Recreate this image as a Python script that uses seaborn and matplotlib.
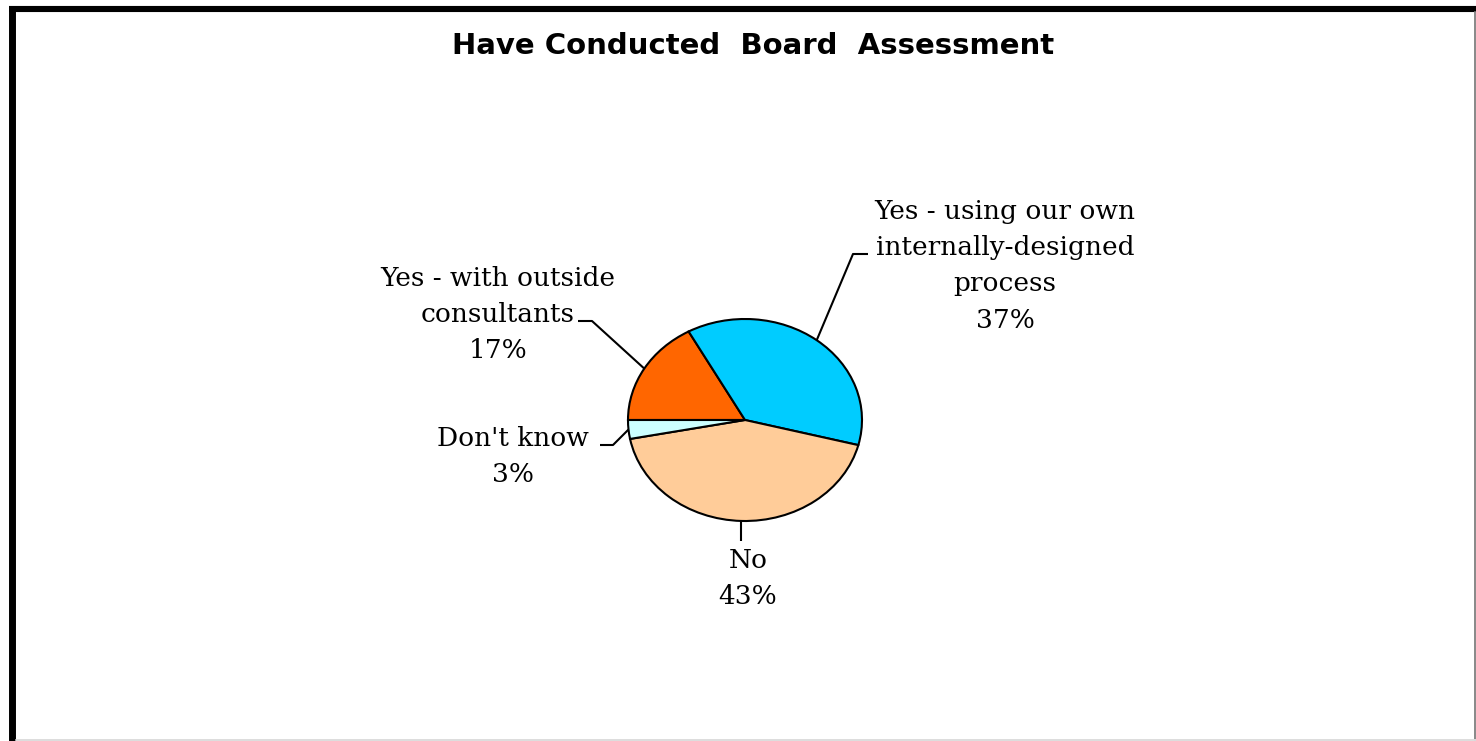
import numpy as np
import seaborn as sns
import matplotlib.pyplot as plt
from matplotlib.lines import Line2D

sns.set_theme(style="white")
plt.rcParams['font.family'] = ['DejaVu Serif', 'Liberation Serif']

# data, clockwise from 9 o'clock
labels = ["Yes - with outside\nconsultants", "Yes - using our own\ninternally-designed\nprocess", "No", "Don't know"]
shares = [17, 37, 43, 3]
colors = ["#FF6600", "#00CCFF", "#FFCC99", "#CCFFFF"]

W, H = 1476, 741
fig = plt.figure(figsize=(W / 100, H / 100), dpi=100)
fig.patch.set_facecolor("white")

# pie box: centre (745, 420) px, radii 117 x 101 px
cx, cy, rx, ry = 745, 420, 117, 101
ax = fig.add_axes([(cx - rx) / W, (H - cy - ry) / H, 2 * rx / W, 2 * ry / H])
wedges, _ = ax.pie(shares, colors=colors, startangle=180, counterclock=False,
                   wedgeprops=dict(edgecolor="black", linewidth=1.5))
ax.set_aspect("auto")
ax.set_xlim(-1, 1)
ax.set_ylim(-1, 1)
ax.axis("off")


def px(x, y):
    # figure pixel (top-left origin) -> data coords of the pie axes
    return ax.transData.inverted().transform((x, H - y))


# text centre and leader elbow points (pixels)
text_pos = [(498, 314), (1005, 266), (748, 578), (513, 457)]
elbows = [[(578, 321), (592, 321)], [(868, 254), (853, 254)],
          [(None, 541)], [(600, 445), (613, 445)]]

for w, lab, pct, tp, elb in zip(wedges, labels, shares, text_pos, elbows):
    mid = np.deg2rad((w.theta1 + w.theta2) / 2)
    edge = (np.cos(mid), np.sin(mid))
    pts = []
    for ex, ey in elb:
        p = px(0 if ex is None else ex, ey)
        if ex is None:
            p[0] = edge[0]  # straight drop below the slice
        pts.append(p)
    pts.append(edge)
    ax.plot([p[0] for p in pts], [p[1] for p in pts], color="black",
            lw=1.5, clip_on=False, solid_capstyle="butt")
    tx, ty = px(*tp)
    ax.text(tx, ty, f"{lab}\n{pct}%", ha="center", va="center", fontsize=19,
            linespacing=1.55, color="black", clip_on=False)

fig.text(753 / W, 1 - 46 / H, "Have Conducted  Board  Assessment", ha="center", va="center",
         fontsize=21, fontweight="bold", color="black", family=["DejaVu Sans"])

# frame: thick black left/top, thin grey right/bottom
fig.add_artist(Line2D([9 / W, 1], [1 - 9 / H, 1 - 9 / H], color="black", lw=4.4,
                      solid_capstyle="butt", transform=fig.transFigure))
fig.add_artist(Line2D([12.5 / W, 12.5 / W], [0, 1 - 6 / H], color="black", lw=5.0,
                      solid_capstyle="butt", transform=fig.transFigure))
fig.add_artist(Line2D([1474.5 / W, 1474.5 / W], [0, 1 - 12 / H], color="#888888", lw=1.4,
                      transform=fig.transFigure))
fig.add_artist(Line2D([16 / W, 1], [1.0 / H, 1.0 / H], color="#dddddd", lw=1.4,
                      transform=fig.transFigure))

fig.savefig("out.png", dpi=100)
